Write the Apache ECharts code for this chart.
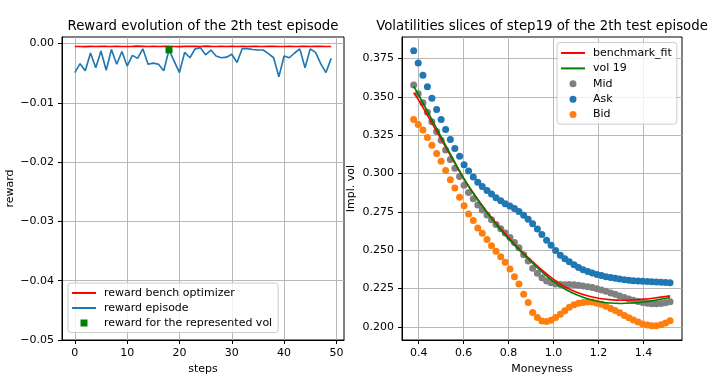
<!DOCTYPE html>
<html>
<head>
<meta charset="utf-8">
<script src="https://cdn.jsdelivr.net/npm/echarts@6.0.0/dist/echarts.min.js"></script>
<style>
html, body {margin: 0; padding: 0; background: #fff;}
#main {width: 716px; height: 380px;}
</style>
</head>
<body>
<div id="main"></div>
<script>
// left panel: reward per step
var steps = [0,1,2,3,4,5,6,7,8,9,10,11,12,13,14,15,16,17,18,19,
             20,21,22,23,24,25,26,27,28,29,30,31,32,33,34,35,36,37,38,39,
             40,41,42,43,44,45,46,47,48,49];
var benchReward = [-0.0005,-0.0005,-0.00052,-0.00048,-0.0005,
                   -0.00046,-0.00049,-0.0005,-0.00047,-0.0005,
                   -0.0005,-0.00048,-0.00045,-0.00047,-0.0005,
                   -0.00049,-0.0005,-0.00047,-0.00046,-0.0005,
                   -0.00052,-0.00049,-0.00047,-0.00046,-0.0005,
                   -0.00045,-0.00048,-0.0005,-0.00049,-0.0005,
                   -0.00047,-0.0005,-0.00048,-0.0005,-0.00046,
                   -0.00049,-0.0005,-0.00047,-0.00048,-0.0005,
                   -0.0005,-0.00048,-0.0005,-0.00049,-0.00047,
                   -0.0005,-0.00049,-0.00048,-0.0005,-0.0005];
var episodeReward = [-0.0049,-0.0034,-0.0046,-0.0016,-0.0041,-0.00125,-0.0045,-0.001,-0.0035,-0.00135,
                     -0.0038,-0.002,-0.0025,-0.0009,-0.0035,-0.0033,-0.0035,-0.0046,-0.00105,-0.003,
                     -0.0049,-0.0015,-0.0024,-0.0009,-0.0007,-0.0019,-0.0011,-0.0021,-0.0024,-0.0023,
                     -0.0018,-0.0032,-0.00085,-0.00085,-0.001,-0.0011,-0.0011,-0.0017,-0.0024,-0.0056,
                     -0.0021,-0.0024,-0.0016,-0.0009,-0.0041,-0.0009,-0.0015,-0.0034,-0.0049,-0.0025];
var markStep = [18];
var markReward = [-0.00105];
var rewardTicks = [-0.05,-0.04,-0.03,-0.02,-0.01,0];
var stepTicks = [0,10,20,30,40,50];

// right panel: vol slice
var moneyness = [0.378,0.398,0.419,0.439,0.459,0.480,0.500,0.520,0.541,0.561,
                 0.582,0.602,0.622,0.643,0.663,0.683,0.704,0.724,0.744,0.765,
                 0.785,0.806,0.826,0.846,0.867,0.887,0.907,0.928,0.948,0.969,
                 0.989,1.009,1.030,1.050,1.070,1.091,1.111,1.131,1.152,1.172,
                 1.193,1.213,1.233,1.254,1.274,1.294,1.315,1.335,1.355,1.376,
                 1.396,1.417,1.437,1.457,1.478,1.498,1.518];
var midVol = [0.3577,0.352,0.3462,0.340,0.3338,0.3274,0.3217,0.3154,0.3091,0.3034,
              0.298,0.2924,0.2876,0.2836,0.2795,0.2763,0.273,0.2698,0.2668,0.264,
              0.2612,0.2583,0.255,0.2516,0.2471,0.243,0.2383,0.235,0.232,0.230,
              0.2288,0.228,0.2276,0.2275,0.2276,0.2275,0.2272,0.2267,0.2262,0.2257,
              0.2249,0.2241,0.2232,0.2221,0.2213,0.2202,0.2192,0.2183,0.2174,0.2166,
              0.2159,0.2155,0.2152,0.2151,0.2153,0.2158,0.2164];
var askVol = [0.380,0.372,0.364,0.3566,0.349,0.3418,0.3353,0.3287,0.3222,0.3163,
              0.3113,0.3058,0.3016,0.2977,0.2944,0.2916,0.289,0.2866,0.2843,0.2822,
              0.2803,0.2788,0.2772,0.2752,0.2728,0.2702,0.2672,0.2638,0.2602,0.2566,
              0.2532,0.2498,0.2468,0.2445,0.2425,0.2405,0.2388,0.2373,0.2362,0.2352,
              0.2342,0.2335,0.2328,0.2322,0.2318,0.2313,0.2308,0.2305,0.2302,0.2300,
              0.2298,0.2297,0.2295,0.2293,0.2292,0.229,0.2288];
var bidVol = [0.3353,0.332,0.3283,0.3235,0.3185,0.313,0.308,0.302,0.296,0.2905,
              0.2846,0.279,0.2737,0.2694,0.2645,0.261,0.257,0.253,0.2493,0.2458,
              0.2421,0.2378,0.2327,0.228,0.2214,0.2159,0.2094,0.2061,0.2039,0.2035,
              0.2044,0.2061,0.2083,0.2105,0.2128,0.2145,0.2155,0.216,0.2163,0.2162,
              0.2155,0.2148,0.2135,0.212,0.2108,0.2092,0.2075,0.206,0.2045,0.2032,
              0.202,0.2012,0.2008,0.2008,0.2015,0.2025,0.204];
var fitMoneyness = [0.378,0.4,0.45,0.5,0.55,0.6,0.65,0.7,0.75,0.8,0.85,0.9,
                    0.95,1.0,1.05,1.1,1.15,1.2,1.25,1.3,1.35,1.4,1.45,1.518];
var benchFit = [0.3526,0.3479,0.3352,0.3224,0.3095,0.2968,0.2858,0.2758,0.2666,0.2582,0.2504,0.2434,
                0.2368,0.2310,0.2262,0.2228,0.2203,0.2187,0.2178,0.2174,0.2176,0.2181,0.2189,0.2203];
var vol19 = [0.3570,0.3512,0.3375,0.3239,0.3102,0.2970,0.2855,0.2752,0.2658,0.2574,0.2497,0.2425,
             0.2357,0.2295,0.2247,0.2211,0.2184,0.2166,0.2156,0.2153,0.2156,0.2163,0.2173,0.2192];
var volTicks = [0.2,0.225,0.25,0.275,0.3,0.325,0.35,0.375];
var moneyTicks = [0.4,0.6,0.8,1.0,1.2,1.4];

var FONT = 'DejaVu Sans';
var SQUARE = 'path://M0,0M24,14M8.5,3.5h7v7h-7z';
var DOT = 'path://M0,0M24,14M8.5,7a3.5,3.5 0 1,0 7,0a3.5,3.5 0 1,0 -7,0z';
var NOSYM = {opacity: 0};   // legend: line only, no marker

function pairs(xs, ys) {
    var res = [];
    for (var i = 0; i < ys.length; i++) {
        res.push([xs[i], ys[i]]);
    }
    return res;
}

function mkAxis(idx, name, min, max, ticks, fmt, gap) {
    return {
        type: 'value',
        gridIndex: idx,
        min: min,
        max: max,
        name: name,
        nameLocation: 'middle',
        nameGap: gap,
        nameTextStyle: {color: '#000', fontSize: 11, fontFamily: FONT},
        axisLine: {show: true, onZero: false, lineStyle: {color: '#000', width: 1}},
        axisTick: {show: true, length: 4, customValues: ticks, lineStyle: {color: '#000', width: 1}},
        axisLabel: {
            customValues: ticks, margin: 8, color: '#000', fontSize: 11, fontFamily: FONT,
            formatter: fmt
        },
        splitLine: {show: true, lineStyle: {color: '#b0b0b0', width: 0.9}}
    };
}

var legendBase = {
    orient: 'vertical',
    itemWidth: 24,
    itemHeight: 14,
    selectedMode: false,
    backgroundColor: 'rgba(255,255,255,0.8)',
    borderColor: '#cccccc',
    borderWidth: 1,
    borderRadius: 3,
    textStyle: {color: '#000', fontSize: 11, fontFamily: FONT, lineHeight: 14, padding: [0, 0, 0, 3]}
};

var myChart = echarts.init(document.getElementById('main'));
var option = {
    animation: false,
    backgroundColor: '#fff',
    title: [{
        text: 'Reward evolution of the 2th test episode',
        left: 203, top: 20, textAlign: 'center', padding: 0,
        textStyle: {color: '#000', fontSize: 13.3, fontWeight: 'normal', fontFamily: FONT}
    }, {
        text: 'Volatilities slices of step19 of the 2th test episode',
        left: 542, top: 20, textAlign: 'center', padding: 0,
        textStyle: {color: '#000', fontSize: 13.3, fontWeight: 'normal', fontFamily: FONT}
    }],
    grid: [
        {left: 62, top: 37, width: 282, height: 303, show: true, borderColor: '#000', borderWidth: 1, backgroundColor: 'transparent'},
        {left: 402, top: 37, width: 280, height: 303, show: true, borderColor: '#000', borderWidth: 1, backgroundColor: 'transparent'}
    ],
    xAxis: [
        mkAxis(0, 'steps', -2.45, 51.45, stepTicks, function (v) { return String(v); }, 19),
        mkAxis(1, 'Moneyness', 0.326, 1.571, moneyTicks, function (v) { return v.toFixed(1); }, 19)
    ],
    yAxis: [
        mkAxis(0, 'reward', -0.05, 0.0011, rewardTicks, function (v) { return v.toFixed(2).replace('-', '\u2212'); }, 46),
        mkAxis(1, 'Impl. vol', 0.1915, 0.389, volTicks, function (v) { return v.toFixed(3); }, 45)
    ],
    legend: [
        echarts.util.merge({
            left: 68, top: 283, itemGap: 1, padding: [3, 6, 2.5, 3],
            data: [
                {name: 'reward bench optimizer', itemStyle: NOSYM},
                {name: 'reward episode', itemStyle: NOSYM},
                {name: 'reward for the represented vol', icon: SQUARE}
            ]
        }, legendBase),
        echarts.util.merge({
            left: 557, top: 42.5, itemGap: 1.4, padding: [3.5, 5, 2.5, 3],
            data: [
                {name: 'benchmark_fit', itemStyle: NOSYM},
                {name: 'vol 19', itemStyle: NOSYM},
                {name: 'Mid', icon: DOT},
                {name: 'Ask', icon: DOT},
                {name: 'Bid', icon: DOT}
            ]
        }, legendBase)
    ],
    series: [
        {
            name: 'reward bench optimizer', type: 'line', xAxisIndex: 0, yAxisIndex: 0,
            data: pairs(steps, benchReward), symbol: 'none', z: 3,
            lineStyle: {color: '#ff0000', width: 1.65}, itemStyle: {color: '#ff0000'}
        },
        {
            name: 'reward episode', type: 'line', xAxisIndex: 0, yAxisIndex: 0,
            data: pairs(steps, episodeReward), symbol: 'none', z: 3,
            lineStyle: {color: '#1f77b4', width: 1.65}, itemStyle: {color: '#1f77b4'}
        },
        {
            name: 'reward for the represented vol', type: 'scatter', xAxisIndex: 0, yAxisIndex: 0,
            data: pairs(markStep, markReward), symbol: 'rect', symbolSize: 7, z: 4,
            itemStyle: {color: '#008000', opacity: 1}
        },
        {
            name: 'Mid', type: 'scatter', xAxisIndex: 1, yAxisIndex: 1,
            data: pairs(moneyness, midVol), symbolSize: 7, z: 2,
            itemStyle: {color: '#808080', opacity: 1}
        },
        {
            name: 'Ask', type: 'scatter', xAxisIndex: 1, yAxisIndex: 1,
            data: pairs(moneyness, askVol), symbolSize: 7, z: 2,
            itemStyle: {color: '#1f77b4', opacity: 1}
        },
        {
            name: 'Bid', type: 'scatter', xAxisIndex: 1, yAxisIndex: 1,
            data: pairs(moneyness, bidVol), symbolSize: 7, z: 2,
            itemStyle: {color: '#ff7f0e', opacity: 1}
        },
        {
            name: 'benchmark_fit', type: 'line', xAxisIndex: 1, yAxisIndex: 1,
            data: pairs(fitMoneyness, benchFit), symbol: 'none', smooth: 0.3, z: 3,
            lineStyle: {color: '#ff0000', width: 1.65}, itemStyle: {color: '#ff0000'}
        },
        {
            name: 'vol 19', type: 'line', xAxisIndex: 1, yAxisIndex: 1,
            data: pairs(fitMoneyness, vol19), symbol: 'none', smooth: 0.3, z: 3,
            lineStyle: {color: '#008000', width: 1.65}, itemStyle: {color: '#008000'}
        }
    ]
};
myChart.setOption(option);
</script>
</body>
</html>
